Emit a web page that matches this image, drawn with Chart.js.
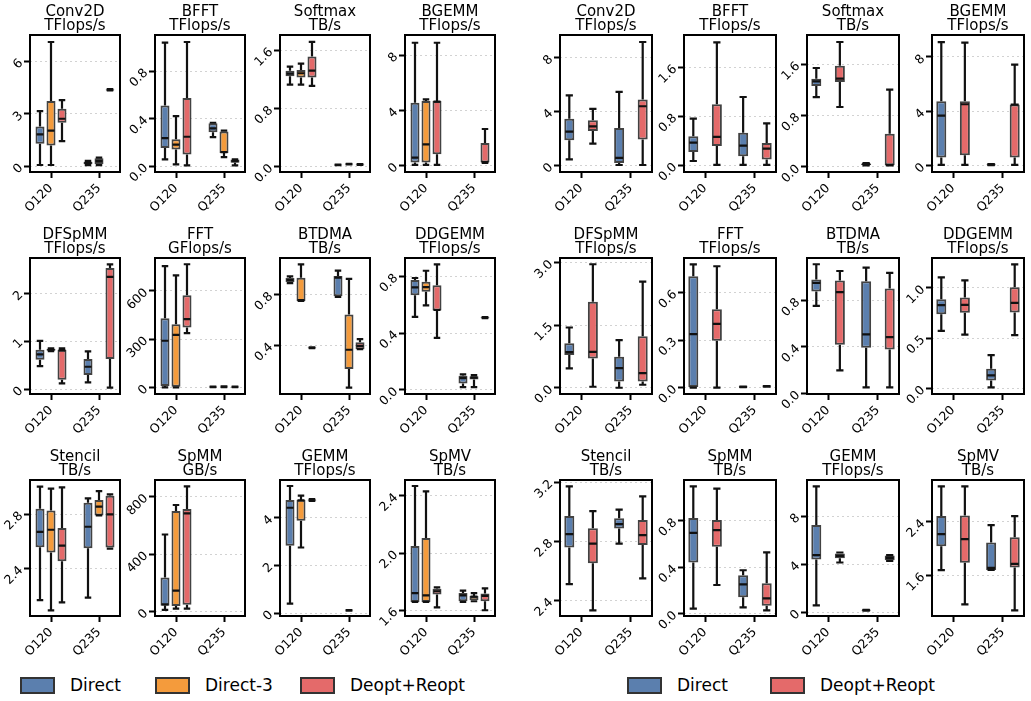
<!DOCTYPE html>
<html>
<head>
<meta charset="utf-8">
<script src="https://cdn.jsdelivr.net/npm/chart.js@4.4.1/dist/chart.umd.min.js"></script>
<style>
  body { margin: 0; background: #fff; width: 1031px; height: 701px; position: relative; overflow: hidden; font-family: 'DejaVu Sans', sans-serif; }
  .panel { position: absolute; }
  .leg { position: absolute; display: flex; align-items: center; font-size: 17px; color: #000; white-space: nowrap; }
  .sw { width: 31px; height: 13px; border: 2px solid #333; margin-right: 15px; }
</style>
</head>
<body>
<script>
const FONT = "'DejaVu Sans', sans-serif";
const categories = ['O120', 'Q235'];
const methodsA = ['Direct', 'Direct-3', 'Deopt+Reopt'];
const methodsB = ['Direct', 'Deopt+Reopt'];
const colorsA = ['#5b7fae', '#f49b3c', '#e46a6a'];
const colorsB = ['#5b7fae', '#e46a6a'];

// each box: [min, q1, median, q3, max] for O120, Q235 (null = no run)
// left group: Direct, Direct-3, Deopt+Reopt
const conv2dA = [
  [[0.06, 1.28, 1.82, 2.27, 3.15], [0.05, 0.1, 0.18, 0.25, 0.3]],
  [[0.06, 1.18, 2.03, 3.73, 7.11], [0.05, 0.12, 0.28, 0.45, 0.48]],
  [[1.43, 2.48, 2.71, 3.29, 3.78], [4.33, 4.35, 4.37, 4.39, 4.41]]
];
const bfftA = [
  [[0.056, 0.152, 0.236, 0.511, 1.039], [0.244, 0.284, 0.317, 0.36, 0.365]],
  [[0.014, 0.14, 0.18, 0.225, 0.42], [0.076, 0.11, 0.118, 0.292, 0.298]],
  [[0.006, 0.098, 0.247, 0.573, 1.045], [0.006, 0.028, 0.042, 0.056, 0.056]]
];
const softmaxA = [
  [[1.128, 1.243, 1.28, 1.32, 1.376], [0.02, 0.022, 0.025, 0.028, 0.03]],
  [[1.128, 1.225, 1.284, 1.33, 1.417], [0.03, 0.032, 0.035, 0.038, 0.04]],
  [[1.11, 1.225, 1.32, 1.514, 1.716], [0.025, 0.027, 0.03, 0.032, 0.034]]
];
const bgemmA = [
  [[0.05, 0.22, 0.58, 4.55, 8.89], null],
  [[0.05, 0.22, 1.54, 4.67, 4.8], null],
  [[0.05, 0.82, 4.63, 4.67, 8.89], [0.2, 0.22, 0.26, 1.64, 2.65]]
];
const dfspmmA = [
  [[0.48, 0.61, 0.722, 0.82, 1.007], [0.139, 0.292, 0.465, 0.625, 0.785]],
  [[0.79, 0.8, 0.82, 0.84, 0.85], null],
  [[0.118, 0.194, 0.806, 0.82, 0.847], [0.028, 0.625, 2.34, 2.528, 2.604]]
];
const fftA = [
  [[0, 8, 290, 430, 755], [1, 2, 3, 4, 5]],
  [[0, 0, 327, 393, 697], [2, 3, 4, 5, 6]],
  [[337, 372, 424, 573, 766], [1, 2, 3, 4, 5]]
];
const btdmaA = [
  [[0.891, 0.899, 0.915, 0.931, 0.944], [0.782, 0.787, 0.933, 0.946, 0.988]],
  [[0.75, 0.75, 0.756, 0.933, 1.038], [0.068, 0.214, 0.366, 0.643, 0.923]],
  [[0.378, 0.38, 0.382, 0.384, 0.386], [0.371, 0.371, 0.397, 0.426, 0.45]]
];
const ddgemmA = [
  [[0.514, 0.667, 0.723, 0.775, 0.789], [0.019, 0.045, 0.082, 0.099, 0.108]],
  [[0.596, 0.692, 0.725, 0.763, 0.84], [0.019, 0.073, 0.085, 0.096, 0.103]],
  [[0.366, 0.559, 0.563, 0.737, 0.885], [0.505, 0.507, 0.509, 0.511, 0.513]]
];
const stencilA = [
  [[2.169, 2.557, 2.67, 2.839, 3.001], [2.187, 2.55, 2.707, 2.883, 2.915]],
  [[2.093, 2.518, 2.685, 2.827, 2.987], [2.79, 2.79, 2.854, 2.903, 2.969]],
  [[2.152, 2.454, 2.569, 2.697, 2.996], [2.547, 2.555, 2.798, 2.935, 2.945]]
];
const spmmA = [
  [[12, 42, 51, 237, 537], null],
  [[21, 40, 147, 700, 742], null],
  [[21, 49, 684, 714, 872], null]
];
const gemmA = [
  [[0.393, 2.82, 4.42, 4.744, 5.333], null],
  [[2.75, 3.87, 4.73, 4.758, 4.926], [0.1, 0.105, 0.11, 0.115, 0.12]],
  [[4.71, 4.72, 4.74, 4.76, 4.78], null]
];
const spmvA = [
  [[1.658, 1.658, 1.72, 2.049, 2.468], [1.658, 1.663, 1.704, 1.72, 1.737]],
  [[1.658, 1.658, 1.704, 2.105, 2.43], [1.663, 1.67, 1.695, 1.7, 1.72]],
  [[1.62, 1.71, 1.733, 1.75, 1.76], [1.6, 1.663, 1.7, 1.718, 1.753]]
];

// right group: Direct, Deopt+Reopt
const conv2dB = [
  [[0.47, 1.88, 2.52, 3.48, 5.21], [0.05, 0.2, 0.57, 2.79, 5.46]],
  [[1.63, 2.57, 2.91, 3.36, 4.2], [0.05, 1.93, 4.4, 4.91, 9.16]]
];
const bfftB = [
  [[0.07, 0.218, 0.37, 0.473, 0.762], [0.005, 0.147, 0.321, 0.533, 1.116]],
  [[0.005, 0.316, 0.463, 0.996, 2.01], [0.005, 0.093, 0.272, 0.365, 0.686]]
];
const softmaxB = [
  [[1.09, 1.262, 1.335, 1.377, 1.543], [0.025, 0.03, 0.045, 0.055, 0.06]],
  [[0.935, 1.325, 1.377, 1.579, 1.948], [0.026, 0.026, 0.03, 0.52, 1.205]]
];
const bgemmB = [
  [[0.05, 0.59, 3.68, 4.74, 9.1], [0.03, 0.05, 0.07, 0.09, 0.11]],
  [[0.05, 0.76, 4.52, 4.74, 9.06], [0.05, 0.59, 4.49, 4.5, 7.44]]
];
const dfspmmB = [
  [[0.463, 0.782, 0.854, 1.069, 1.444], [0, 0.152, 0.471, 0.742, 1.141]],
  [[0.024, 0.702, 0.862, 2.06, 2.96], [0.072, 0.152, 0.351, 1.237, 2.546]]
];
const fftB = [
  [[0, 0.004, 0.338, 0.703, 0.778], [0.003, 0.004, 0.005, 0.006, 0.007]],
  [[0, 0.296, 0.403, 0.495, 0.766], [0.006, 0.007, 0.008, 0.009, 0.01]]
];
const btdmaB = [
  [[0.754, 0.877, 0.952, 0.981, 1.113], [0.052, 0.393, 0.508, 0.966, 1.084]],
  [[0.198, 0.419, 0.872, 0.972, 1.055], [0.052, 0.378, 0.485, 0.903, 1.038]]
];
const ddgemmB = [
  [[0.573, 0.738, 0.828, 0.887, 1.106], [0.01, 0.079, 0.129, 0.195, 0.331]],
  [[0.536, 0.752, 0.831, 0.904, 1.076], [0.53, 0.755, 0.851, 1.007, 1.235]]
];
const stencilB = [
  [[2.511, 2.759, 2.85, 2.972, 3.173], [2.786, 2.888, 2.918, 2.958, 3.015]],
  [[2.334, 2.653, 2.786, 2.89, 3.006], [2.551, 2.777, 2.843, 2.945, 3.105]]
];
const spmmB = [
  [[0.043, 0.44, 0.696, 0.823, 1.096], [0.055, 0.141, 0.253, 0.331, 0.374]],
  [[0.247, 0.576, 0.719, 0.806, 1.076], [0.029, 0.069, 0.132, 0.262, 0.527]]
];
const gemmB = [
  [[0.58, 4.39, 4.75, 7.25, 10.47], [0.13, 0.15, 0.17, 0.19, 0.21]],
  [[4.14, 4.5, 4.69, 4.89, 4.97], [4.28, 4.33, 4.53, 4.72, 4.75]]
];
const spmvB = [
  [[1.675, 2.035, 2.215, 2.485, 2.93], [1.68, 1.68, 1.71, 2.09, 2.35]],
  [[1.165, 1.785, 2.14, 2.495, 2.93], [1.075, 1.715, 1.77, 2.17, 2.485]]
];

// panel titles, units, y tick labels and y limits
const panelsA = [
  ['Conv2D', 'TFlops/s', conv2dA, ['0', '3', '6'], -0.34, 7.51],
  ['BFFT', 'TFlops/s', bfftA, ['0.0', '0.4', '0.8'], -0.05, 1.104],
  ['Softmax', 'TB/s', softmaxA, ['0.0', '0.8', '1.6'], -0.073, 1.81],
  ['BGEMM', 'TFlops/s', bgemmA, ['0', '4', '8'], -0.46, 9.45],
  ['DFSpMM', 'TFlops/s', dfspmmA, ['0', '1', '2'], -0.104, 2.736],
  ['FFT', 'GFlops/s', fftA, ['0', '300', '600'], -41.4, 805],
  ['BTDMA', 'TB/s', btdmaA, ['0.4', '0.8'], 0.018, 1.088],
  ['DDGEMM', 'TFlops/s', ddgemmA, ['0.0', '0.4', '0.8'], -0.03, 0.93],
  ['Stencil', 'TB/s', stencilA, ['2.4', '2.8'], 2.052, 3.05],
  ['SpMM', 'GB/s', spmmA, ['0', '400', '800'], -30, 916],
  ['GEMM', 'TFlops/s', gemmA, ['0', '2', '4'], -0.126, 5.586],
  ['SpMV', 'TB/s', spmvA, ['1.6', '2.0', '2.4'], 1.56, 2.51]
];
const panelsB = [
  ['Conv2D', 'TFlops/s', conv2dB, ['0', '4', '8'], -0.47, 9.68],
  ['BFFT', 'TFlops/s', bfftB, ['0.0', '0.8', '1.6'], -0.11, 2.13],
  ['Softmax', 'TB/s', softmaxB, ['0.0', '0.8', '1.6'], -0.078, 2.057],
  ['BGEMM', 'TFlops/s', bgemmB, ['0', '4', '8'], -0.47, 9.62],
  ['DFSpMM', 'TFlops/s', dfspmmB, ['0.0', '1.5', '3.0'], -0.15, 3.11],
  ['FFT', 'TFlops/s', fftB, ['0.0', '0.3', '0.6'], -0.04, 0.818],
  ['BTDMA', 'TB/s', btdmaB, ['0.0', '0.4', '0.8'], -0.006, 1.167],
  ['DDGEMM', 'TFlops/s', ddgemmB, ['0.0', '0.5', '1.0'], -0.056, 1.298],
  ['Stencil', 'TB/s', stencilB, ['2.4', '2.8', '3.2'], 2.296, 3.216],
  ['SpMM', 'TB/s', spmmB, ['0.0', '0.4', '0.8'], -0.02, 1.151],
  ['GEMM', 'TFlops/s', gemmB, ['0', '4', '8'], -0.31, 11.0],
  ['SpMV', 'TB/s', spmvB, ['1.6', '2.4'], 0.99, 3.025]
];

// whiskers, caps and medians on top of the floating bars
const whiskers = {
  id: 'whiskers',
  afterDatasetsDraw(chart) {
    const ctx = chart.ctx, ys = chart.scales.y;
    const py = v => ys.getPixelForValue(v);
    chart.data.datasets.forEach((ds, di) => {
      chart.getDatasetMeta(di).data.forEach((el, j) => {
        const s = ds.data[j].stats;
        const cx = el.x, hw = el.width / 2, cw = el.width * 0.36;
        ctx.save();
        ctx.strokeStyle = '#111';
        ctx.lineWidth = 2.2;
        ctx.beginPath();
        ctx.moveTo(cx, py(s[3])); ctx.lineTo(cx, py(s[4]));
        ctx.moveTo(cx, py(s[1])); ctx.lineTo(cx, py(s[0]));
        ctx.moveTo(cx - cw, py(s[4])); ctx.lineTo(cx + cw, py(s[4]));
        ctx.moveTo(cx - cw, py(s[0])); ctx.lineTo(cx + cw, py(s[0]));
        ctx.moveTo(cx - hw + 1, py(s[2])); ctx.lineTo(cx + hw - 1, py(s[2]));
        ctx.stroke();
        ctx.restore();
      });
    });
  }
};

const frame = {
  id: 'frame',
  afterDraw(chart) {
    const a = chart.chartArea, ctx = chart.ctx;
    ctx.save();
    ctx.strokeStyle = '#000';
    ctx.lineWidth = 2;
    ctx.strokeRect(a.left, a.top, a.right - a.left, a.bottom - a.top);
    ctx.restore();
  }
};

function makePanel(p, methods, colors, fx, fy, fw, fh, cp, bp, xpad) {
  const [name, unit, boxes, yLabels, ymin, ymax] = p;
  const W = fw + 84, H = fh + 85;
  const div = document.createElement('div');
  div.className = 'panel';
  div.style.left = (fx - 42) + 'px';
  div.style.top = (fy - 35) + 'px';
  const cv = document.createElement('canvas');
  cv.width = W; cv.height = H;
  div.appendChild(cv);
  document.body.appendChild(div);

  const datasets = methods.map((m, mi) => ({
    label: m,
    data: boxes[mi].map((s, ci) => s ? { x: ci, y: [s[1], s[3]], stats: s } : null).filter(d => d),
    backgroundColor: colors[mi],
    borderColor: 'rgba(45,45,45,0.9)',
    borderWidth: 2,
    borderSkipped: false,
    categoryPercentage: cp,
    barPercentage: bp
  }));

  new Chart(cv, {
    type: 'bar',
    data: { datasets },
    options: {
      responsive: false,
      animation: false,
      layout: { padding: { left: 0, right: 42, top: 0, bottom: 0 } },
      plugins: {
        legend: { display: false },
        tooltip: { enabled: false },
        title: {
          display: true, fullSize: false, text: [name, unit], color: '#000',
          font: { family: FONT, size: 15, weight: 'normal', lineHeight: '14px' },
          padding: { top: 5, bottom: 2 }
        }
      },
      scales: {
        x: {
          type: 'linear', offset: false, min: -xpad, max: 1 + xpad,
          afterBuildTicks: s => { s.ticks = categories.map((c, i) => ({ value: i })); },
          afterFit: s => { s.height = 50; },
          ticks: {
            callback: v => categories[v], color: '#000', padding: 3,
            minRotation: 45, maxRotation: 45, autoSkip: false,
            font: { family: FONT, size: 12.5 }
          },
          grid: { offset: false, drawOnChartArea: false, drawTicks: true, tickLength: 6, tickWidth: 2, tickColor: '#000', tickBorderDash: [] },
          border: { display: false }
        },
        y: {
          type: 'linear', min: ymin, max: ymax, beginAtZero: false,
          afterBuildTicks: s => { s.ticks = yLabels.map(t => ({ value: Number(t) })); },
          afterFit: s => { s.width = 42; },
          ticks: {
            callback: (v, i) => yLabels[i], color: '#000', padding: 3,
            minRotation: 45, maxRotation: 45,
            font: { family: FONT, size: 12.5 }
          },
          grid: { color: '#d2d2d2', lineWidth: 1, tickLength: 6, tickWidth: 2, tickColor: '#000', tickBorderDash: [] },
          border: { display: false, dash: [2, 3] }
        }
      }
    },
    plugins: [whiskers, frame]
  });
}

const rowTops = [35, 258, 480];
const rowHeights = [137, 136, 136];
const colA = [30, 155, 280, 405];
const colB = [560, 683.5, 807, 932];

panelsA.forEach((p, i) => {
  const r = Math.floor(i / 4), c = i % 4;
  makePanel(p, methodsA, colorsA, colA[c], rowTops[r], 90, rowHeights[r], 0.6875, 0.82, 0.4375);
});
panelsB.forEach((p, i) => {
  const r = Math.floor(i / 4), c = i % 4;
  makePanel(p, methodsB, colorsB, colB[c], rowTops[r], 92, rowHeights[r], 0.946, 0.425, 0.423);
});

// legends
function legendItem(label, color, x) {
  const d = document.createElement('div');
  d.className = 'leg';
  d.style.left = x + 'px';
  d.style.top = '675px';
  const sw = document.createElement('span');
  sw.className = 'sw';
  sw.style.background = color;
  d.appendChild(sw);
  d.appendChild(document.createTextNode(label));
  document.body.appendChild(d);
}
const legendXA = [20, 155, 300];
const legendXB = [627, 770];
methodsA.forEach((m, i) => legendItem(m, colorsA[i], legendXA[i]));
methodsB.forEach((m, i) => legendItem(m, colorsB[i], legendXB[i]));
</script>
</body>
</html>
